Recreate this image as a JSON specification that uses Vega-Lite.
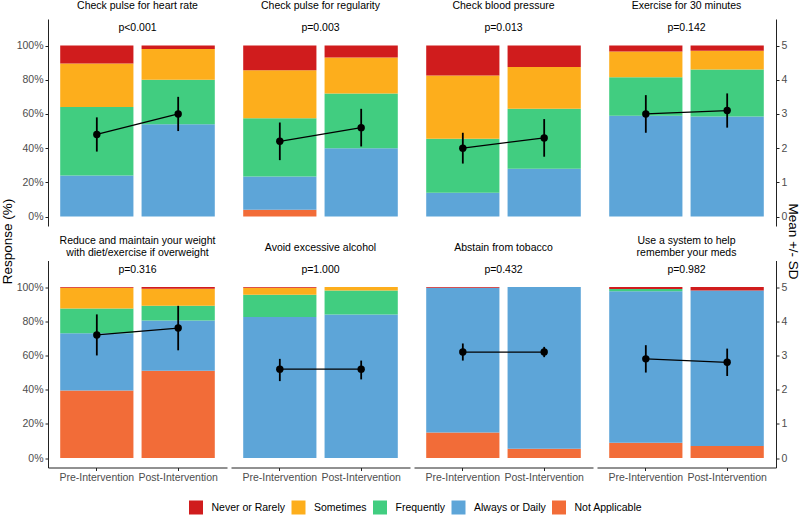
{
 "$schema": "https://vega.github.io/schema/vega-lite/v6.json",
 "padding": {"left": 0, "top": 1, "right": 0, "bottom": 0},
 "background": "white",
 "config": {
  "font": "Liberation Sans",
  "view": {"stroke": null},
  "axis": {"labelFontSize": 10.5, "labelColor": "#4D4D4D", "domainColor": "#222222", "tickColor": "#222222", "grid": false, "tickSize": 3, "labelPadding": 2, "titleFontSize": 13.5, "titleFontWeight": "normal", "titleColor": "black", "titlePadding": 1.5},
  "title": {"fontSize": 10.5, "fontWeight": "normal", "color": "black", "baseline": "middle", "offset": 7.5, "lineHeight": 12.3, "anchor": "middle", "frame": "group"},
  "legend": {"symbolType": "square", "symbolSize": 196, "symbolStrokeWidth": 0, "labelFontSize": 10.5, "labelColor": "black", "labelOffset": 8.5, "columnPadding": 5.5, "padding": 0}
 },
 "datasets": {
  "bars": [
   {"q": 1, "t": "Pre-Intervention", "c": "Always or Daily", "k": 2, "v": 24},
   {"q": 1, "t": "Pre-Intervention", "c": "Frequently", "k": 3, "v": 40},
   {"q": 1, "t": "Pre-Intervention", "c": "Sometimes", "k": 4, "v": 25.5},
   {"q": 1, "t": "Pre-Intervention", "c": "Never or Rarely", "k": 5, "v": 10.5},
   {"q": 1, "t": "Post-Intervention", "c": "Always or Daily", "k": 2, "v": 54},
   {"q": 1, "t": "Post-Intervention", "c": "Frequently", "k": 3, "v": 26},
   {"q": 1, "t": "Post-Intervention", "c": "Sometimes", "k": 4, "v": 18},
   {"q": 1, "t": "Post-Intervention", "c": "Never or Rarely", "k": 5, "v": 2},
   {"q": 2, "t": "Pre-Intervention", "c": "Not Applicable", "k": 1, "v": 4},
   {"q": 2, "t": "Pre-Intervention", "c": "Always or Daily", "k": 2, "v": 19.5},
   {"q": 2, "t": "Pre-Intervention", "c": "Frequently", "k": 3, "v": 34},
   {"q": 2, "t": "Pre-Intervention", "c": "Sometimes", "k": 4, "v": 28},
   {"q": 2, "t": "Pre-Intervention", "c": "Never or Rarely", "k": 5, "v": 14.5},
   {"q": 2, "t": "Post-Intervention", "c": "Always or Daily", "k": 2, "v": 40},
   {"q": 2, "t": "Post-Intervention", "c": "Frequently", "k": 3, "v": 32},
   {"q": 2, "t": "Post-Intervention", "c": "Sometimes", "k": 4, "v": 21},
   {"q": 2, "t": "Post-Intervention", "c": "Never or Rarely", "k": 5, "v": 7},
   {"q": 3, "t": "Pre-Intervention", "c": "Always or Daily", "k": 2, "v": 14},
   {"q": 3, "t": "Pre-Intervention", "c": "Frequently", "k": 3, "v": 31.5},
   {"q": 3, "t": "Pre-Intervention", "c": "Sometimes", "k": 4, "v": 37},
   {"q": 3, "t": "Pre-Intervention", "c": "Never or Rarely", "k": 5, "v": 17.5},
   {"q": 3, "t": "Post-Intervention", "c": "Always or Daily", "k": 2, "v": 28},
   {"q": 3, "t": "Post-Intervention", "c": "Frequently", "k": 3, "v": 35},
   {"q": 3, "t": "Post-Intervention", "c": "Sometimes", "k": 4, "v": 24.5},
   {"q": 3, "t": "Post-Intervention", "c": "Never or Rarely", "k": 5, "v": 12.5},
   {"q": 4, "t": "Pre-Intervention", "c": "Always or Daily", "k": 2, "v": 59},
   {"q": 4, "t": "Pre-Intervention", "c": "Frequently", "k": 3, "v": 22.5},
   {"q": 4, "t": "Pre-Intervention", "c": "Sometimes", "k": 4, "v": 15},
   {"q": 4, "t": "Pre-Intervention", "c": "Never or Rarely", "k": 5, "v": 3.5},
   {"q": 4, "t": "Post-Intervention", "c": "Always or Daily", "k": 2, "v": 58.5},
   {"q": 4, "t": "Post-Intervention", "c": "Frequently", "k": 3, "v": 27.5},
   {"q": 4, "t": "Post-Intervention", "c": "Sometimes", "k": 4, "v": 11},
   {"q": 4, "t": "Post-Intervention", "c": "Never or Rarely", "k": 5, "v": 3},
   {"q": 5, "t": "Pre-Intervention", "c": "Not Applicable", "k": 1, "v": 39.5},
   {"q": 5, "t": "Pre-Intervention", "c": "Always or Daily", "k": 2, "v": 33.5},
   {"q": 5, "t": "Pre-Intervention", "c": "Frequently", "k": 3, "v": 14.5},
   {"q": 5, "t": "Pre-Intervention", "c": "Sometimes", "k": 4, "v": 12},
   {"q": 5, "t": "Pre-Intervention", "c": "Never or Rarely", "k": 5, "v": 0.5},
   {"q": 5, "t": "Post-Intervention", "c": "Not Applicable", "k": 1, "v": 51},
   {"q": 5, "t": "Post-Intervention", "c": "Always or Daily", "k": 2, "v": 29.5},
   {"q": 5, "t": "Post-Intervention", "c": "Frequently", "k": 3, "v": 8.5},
   {"q": 5, "t": "Post-Intervention", "c": "Sometimes", "k": 4, "v": 10},
   {"q": 5, "t": "Post-Intervention", "c": "Never or Rarely", "k": 5, "v": 1},
   {"q": 6, "t": "Pre-Intervention", "c": "Always or Daily", "k": 2, "v": 82.5},
   {"q": 6, "t": "Pre-Intervention", "c": "Frequently", "k": 3, "v": 13},
   {"q": 6, "t": "Pre-Intervention", "c": "Sometimes", "k": 4, "v": 4},
   {"q": 6, "t": "Pre-Intervention", "c": "Never or Rarely", "k": 5, "v": 0.5},
   {"q": 6, "t": "Post-Intervention", "c": "Always or Daily", "k": 2, "v": 84},
   {"q": 6, "t": "Post-Intervention", "c": "Frequently", "k": 3, "v": 14},
   {"q": 6, "t": "Post-Intervention", "c": "Sometimes", "k": 4, "v": 2},
   {"q": 7, "t": "Pre-Intervention", "c": "Not Applicable", "k": 1, "v": 15},
   {"q": 7, "t": "Pre-Intervention", "c": "Always or Daily", "k": 2, "v": 84.5},
   {"q": 7, "t": "Pre-Intervention", "c": "Never or Rarely", "k": 5, "v": 0.5},
   {"q": 7, "t": "Post-Intervention", "c": "Not Applicable", "k": 1, "v": 5.5},
   {"q": 7, "t": "Post-Intervention", "c": "Always or Daily", "k": 2, "v": 94.5},
   {"q": 8, "t": "Pre-Intervention", "c": "Not Applicable", "k": 1, "v": 9},
   {"q": 8, "t": "Pre-Intervention", "c": "Always or Daily", "k": 2, "v": 88.5},
   {"q": 8, "t": "Pre-Intervention", "c": "Frequently", "k": 3, "v": 1.3},
   {"q": 8, "t": "Pre-Intervention", "c": "Never or Rarely", "k": 5, "v": 1.2},
   {"q": 8, "t": "Post-Intervention", "c": "Not Applicable", "k": 1, "v": 7},
   {"q": 8, "t": "Post-Intervention", "c": "Always or Daily", "k": 2, "v": 91},
   {"q": 8, "t": "Post-Intervention", "c": "Never or Rarely", "k": 5, "v": 2}
  ],
  "means": [
   {"q": 1, "t": "Pre-Intervention", "m": 2.4, "lo": 1.9, "hi": 2.9},
   {"q": 1, "t": "Post-Intervention", "m": 3.0, "lo": 2.5, "hi": 3.5},
   {"q": 2, "t": "Pre-Intervention", "m": 2.2, "lo": 1.65, "hi": 2.75},
   {"q": 2, "t": "Post-Intervention", "m": 2.6, "lo": 2.05, "hi": 3.15},
   {"q": 3, "t": "Pre-Intervention", "m": 2.0, "lo": 1.55, "hi": 2.45},
   {"q": 3, "t": "Post-Intervention", "m": 2.3, "lo": 1.75, "hi": 2.85},
   {"q": 4, "t": "Pre-Intervention", "m": 3.0, "lo": 2.45, "hi": 3.55},
   {"q": 4, "t": "Post-Intervention", "m": 3.1, "lo": 2.6, "hi": 3.6},
   {"q": 5, "t": "Pre-Intervention", "m": 3.6, "lo": 3.0, "hi": 4.2},
   {"q": 5, "t": "Post-Intervention", "m": 3.8, "lo": 3.15, "hi": 4.45},
   {"q": 6, "t": "Pre-Intervention", "m": 2.6, "lo": 2.25, "hi": 2.9},
   {"q": 6, "t": "Post-Intervention", "m": 2.6, "lo": 2.3, "hi": 2.85},
   {"q": 7, "t": "Pre-Intervention", "m": 3.1, "lo": 2.85, "hi": 3.35},
   {"q": 7, "t": "Post-Intervention", "m": 3.1, "lo": 2.95, "hi": 3.25},
   {"q": 8, "t": "Pre-Intervention", "m": 2.9, "lo": 2.5, "hi": 3.3},
   {"q": 8, "t": "Post-Intervention", "m": 2.8, "lo": 2.4, "hi": 3.2}
  ],
  "pvals": [
   {"q": 1, "p": "p<0.001"},
   {"q": 2, "p": "p=0.003"},
   {"q": 3, "p": "p=0.013"},
   {"q": 4, "p": "p=0.142"},
   {"q": 5, "p": "p=0.316"},
   {"q": 6, "p": "p=1.000"},
   {"q": 7, "p": "p=0.432"},
   {"q": 8, "p": "p=0.982"}
  ]
 },
 "bounds": "flush",
 "spacing": {"row": 34.5, "column": 4},
 "columns": 4,
 "concat": [
   {"width": 179, "height": 207, "title": {"text": "Check pulse for heart rate"}, "resolve": {"scale": {"y": "independent"}},
    "layer": [
     {"data": {"name": "bars"}, "transform": [{"filter": "datum.q == 1"}], "mark": "bar",
      "encoding": {"x": {"field": "t", "type": "nominal", "scale": {"domain": ["Pre-Intervention", "Post-Intervention"], "paddingInner": 0.1, "paddingOuter": 0.15}, "axis": null},
       "y": {"field": "v", "type": "quantitative", "stack": "zero", "scale": {"domain": [-5.5, 115.5], "nice": false, "zero": false}, "axis": {"orient": "left", "values": [0, 20, 40, 60, 80, 100], "labelExpr": "datum.value + '%'", "title": "Response (%)", "titleY": 222}},
       "color": {"field": "c", "type": "nominal", "scale": {"domain": ["Never or Rarely", "Sometimes", "Frequently", "Always or Daily", "Not Applicable"], "range": ["#D01C1D", "#FDAE1C", "#41CD80", "#5DA5D8", "#F26C38"]}, "legend": {"title": null, "orient": "none", "direction": "horizontal", "legendX": 141, "legendY": 481.5}},
       "order": {"field": "k", "type": "quantitative"}}},
     {"data": {"name": "means"}, "transform": [{"filter": "datum.q == 1"}],
      "layer": [
       {"mark": {"type": "rule", "color": "black", "strokeWidth": 1.8}, "encoding": {"x": {"field": "t", "type": "nominal", "scale": {"domain": ["Pre-Intervention", "Post-Intervention"], "paddingInner": 0.1, "paddingOuter": 0.15}, "axis": null}, "y": {"field": "lo", "type": "quantitative", "scale": {"domain": [-0.275, 5.775], "nice": false, "zero": false}, "axis": null}, "y2": {"field": "hi"}}},
       {"mark": {"type": "line", "color": "black", "strokeWidth": 1.3}, "encoding": {"x": {"field": "t", "type": "nominal", "scale": {"domain": ["Pre-Intervention", "Post-Intervention"], "paddingInner": 0.1, "paddingOuter": 0.15}, "axis": null}, "y": {"field": "m", "type": "quantitative", "scale": {"domain": [-0.275, 5.775], "nice": false, "zero": false}, "axis": null}}},
       {"mark": {"type": "point", "filled": true, "color": "black", "opacity": 1, "size": 55}, "encoding": {"x": {"field": "t", "type": "nominal", "scale": {"domain": ["Pre-Intervention", "Post-Intervention"], "paddingInner": 0.1, "paddingOuter": 0.15}, "axis": null}, "y": {"field": "m", "type": "quantitative", "scale": {"domain": [-0.275, 5.775], "nice": false, "zero": false}, "axis": null}}},
       {"data": {"name": "pvals"}, "transform": [{"filter": "datum.q == 1"}], "mark": {"type": "text", "fontSize": 10.5, "color": "black", "baseline": "middle"}, "encoding": {"text": {"field": "p"}, "y": {"datum": 5.5, "type": "quantitative", "scale": {"domain": [-0.275, 5.775], "nice": false, "zero": false}, "axis": null}}}
      ]}
    ]},
   {"width": 179, "height": 207, "title": {"text": "Check pulse for regularity"}, "resolve": {"scale": {"y": "independent"}},
    "layer": [
     {"data": {"name": "bars"}, "transform": [{"filter": "datum.q == 2"}], "mark": "bar",
      "encoding": {"x": {"field": "t", "type": "nominal", "scale": {"domain": ["Pre-Intervention", "Post-Intervention"], "paddingInner": 0.1, "paddingOuter": 0.15}, "axis": null},
       "y": {"field": "v", "type": "quantitative", "stack": "zero", "scale": {"domain": [-5.5, 115.5], "nice": false, "zero": false}, "axis": null},
       "color": {"field": "c", "type": "nominal", "scale": {"domain": ["Never or Rarely", "Sometimes", "Frequently", "Always or Daily", "Not Applicable"], "range": ["#D01C1D", "#FDAE1C", "#41CD80", "#5DA5D8", "#F26C38"]}, "legend": {"title": null, "orient": "none", "direction": "horizontal", "legendX": 141, "legendY": 481.5}},
       "order": {"field": "k", "type": "quantitative"}}},
     {"data": {"name": "means"}, "transform": [{"filter": "datum.q == 2"}],
      "layer": [
       {"mark": {"type": "rule", "color": "black", "strokeWidth": 1.8}, "encoding": {"x": {"field": "t", "type": "nominal", "scale": {"domain": ["Pre-Intervention", "Post-Intervention"], "paddingInner": 0.1, "paddingOuter": 0.15}, "axis": null}, "y": {"field": "lo", "type": "quantitative", "scale": {"domain": [-0.275, 5.775], "nice": false, "zero": false}, "axis": null}, "y2": {"field": "hi"}}},
       {"mark": {"type": "line", "color": "black", "strokeWidth": 1.3}, "encoding": {"x": {"field": "t", "type": "nominal", "scale": {"domain": ["Pre-Intervention", "Post-Intervention"], "paddingInner": 0.1, "paddingOuter": 0.15}, "axis": null}, "y": {"field": "m", "type": "quantitative", "scale": {"domain": [-0.275, 5.775], "nice": false, "zero": false}, "axis": null}}},
       {"mark": {"type": "point", "filled": true, "color": "black", "opacity": 1, "size": 55}, "encoding": {"x": {"field": "t", "type": "nominal", "scale": {"domain": ["Pre-Intervention", "Post-Intervention"], "paddingInner": 0.1, "paddingOuter": 0.15}, "axis": null}, "y": {"field": "m", "type": "quantitative", "scale": {"domain": [-0.275, 5.775], "nice": false, "zero": false}, "axis": null}}},
       {"data": {"name": "pvals"}, "transform": [{"filter": "datum.q == 2"}], "mark": {"type": "text", "fontSize": 10.5, "color": "black", "baseline": "middle"}, "encoding": {"text": {"field": "p"}, "y": {"datum": 5.5, "type": "quantitative", "scale": {"domain": [-0.275, 5.775], "nice": false, "zero": false}, "axis": null}}}
      ]}
    ]},
   {"width": 179, "height": 207, "title": {"text": "Check blood pressure"}, "resolve": {"scale": {"y": "independent"}},
    "layer": [
     {"data": {"name": "bars"}, "transform": [{"filter": "datum.q == 3"}], "mark": "bar",
      "encoding": {"x": {"field": "t", "type": "nominal", "scale": {"domain": ["Pre-Intervention", "Post-Intervention"], "paddingInner": 0.1, "paddingOuter": 0.15}, "axis": null},
       "y": {"field": "v", "type": "quantitative", "stack": "zero", "scale": {"domain": [-5.5, 115.5], "nice": false, "zero": false}, "axis": null},
       "color": {"field": "c", "type": "nominal", "scale": {"domain": ["Never or Rarely", "Sometimes", "Frequently", "Always or Daily", "Not Applicable"], "range": ["#D01C1D", "#FDAE1C", "#41CD80", "#5DA5D8", "#F26C38"]}, "legend": {"title": null, "orient": "none", "direction": "horizontal", "legendX": 141, "legendY": 481.5}},
       "order": {"field": "k", "type": "quantitative"}}},
     {"data": {"name": "means"}, "transform": [{"filter": "datum.q == 3"}],
      "layer": [
       {"mark": {"type": "rule", "color": "black", "strokeWidth": 1.8}, "encoding": {"x": {"field": "t", "type": "nominal", "scale": {"domain": ["Pre-Intervention", "Post-Intervention"], "paddingInner": 0.1, "paddingOuter": 0.15}, "axis": null}, "y": {"field": "lo", "type": "quantitative", "scale": {"domain": [-0.275, 5.775], "nice": false, "zero": false}, "axis": null}, "y2": {"field": "hi"}}},
       {"mark": {"type": "line", "color": "black", "strokeWidth": 1.3}, "encoding": {"x": {"field": "t", "type": "nominal", "scale": {"domain": ["Pre-Intervention", "Post-Intervention"], "paddingInner": 0.1, "paddingOuter": 0.15}, "axis": null}, "y": {"field": "m", "type": "quantitative", "scale": {"domain": [-0.275, 5.775], "nice": false, "zero": false}, "axis": null}}},
       {"mark": {"type": "point", "filled": true, "color": "black", "opacity": 1, "size": 55}, "encoding": {"x": {"field": "t", "type": "nominal", "scale": {"domain": ["Pre-Intervention", "Post-Intervention"], "paddingInner": 0.1, "paddingOuter": 0.15}, "axis": null}, "y": {"field": "m", "type": "quantitative", "scale": {"domain": [-0.275, 5.775], "nice": false, "zero": false}, "axis": null}}},
       {"data": {"name": "pvals"}, "transform": [{"filter": "datum.q == 3"}], "mark": {"type": "text", "fontSize": 10.5, "color": "black", "baseline": "middle"}, "encoding": {"text": {"field": "p"}, "y": {"datum": 5.5, "type": "quantitative", "scale": {"domain": [-0.275, 5.775], "nice": false, "zero": false}, "axis": null}}}
      ]}
    ]},
   {"width": 179, "height": 207, "title": {"text": "Exercise for 30 minutes"}, "resolve": {"scale": {"y": "independent"}},
    "layer": [
     {"data": {"name": "bars"}, "transform": [{"filter": "datum.q == 4"}], "mark": "bar",
      "encoding": {"x": {"field": "t", "type": "nominal", "scale": {"domain": ["Pre-Intervention", "Post-Intervention"], "paddingInner": 0.1, "paddingOuter": 0.15}, "axis": null},
       "y": {"field": "v", "type": "quantitative", "stack": "zero", "scale": {"domain": [-5.5, 115.5], "nice": false, "zero": false}, "axis": null},
       "color": {"field": "c", "type": "nominal", "scale": {"domain": ["Never or Rarely", "Sometimes", "Frequently", "Always or Daily", "Not Applicable"], "range": ["#D01C1D", "#FDAE1C", "#41CD80", "#5DA5D8", "#F26C38"]}, "legend": {"title": null, "orient": "none", "direction": "horizontal", "legendX": 141, "legendY": 481.5}},
       "order": {"field": "k", "type": "quantitative"}}},
     {"data": {"name": "means"}, "transform": [{"filter": "datum.q == 4"}],
      "layer": [
       {"mark": {"type": "rule", "color": "black", "strokeWidth": 1.8}, "encoding": {"x": {"field": "t", "type": "nominal", "scale": {"domain": ["Pre-Intervention", "Post-Intervention"], "paddingInner": 0.1, "paddingOuter": 0.15}, "axis": null}, "y": {"field": "lo", "type": "quantitative", "scale": {"domain": [-0.275, 5.775], "nice": false, "zero": false}, "axis": {"orient": "right", "values": [0, 1, 2, 3, 4, 5], "title": "Mean +/- SD", "titleY": 222, "titlePadding": -1.5}}, "y2": {"field": "hi"}}},
       {"mark": {"type": "line", "color": "black", "strokeWidth": 1.3}, "encoding": {"x": {"field": "t", "type": "nominal", "scale": {"domain": ["Pre-Intervention", "Post-Intervention"], "paddingInner": 0.1, "paddingOuter": 0.15}, "axis": null}, "y": {"field": "m", "type": "quantitative", "scale": {"domain": [-0.275, 5.775], "nice": false, "zero": false}, "axis": {"orient": "right", "values": [0, 1, 2, 3, 4, 5], "title": "Mean +/- SD", "titleY": 222, "titlePadding": -1.5}}}},
       {"mark": {"type": "point", "filled": true, "color": "black", "opacity": 1, "size": 55}, "encoding": {"x": {"field": "t", "type": "nominal", "scale": {"domain": ["Pre-Intervention", "Post-Intervention"], "paddingInner": 0.1, "paddingOuter": 0.15}, "axis": null}, "y": {"field": "m", "type": "quantitative", "scale": {"domain": [-0.275, 5.775], "nice": false, "zero": false}, "axis": {"orient": "right", "values": [0, 1, 2, 3, 4, 5], "title": "Mean +/- SD", "titleY": 222, "titlePadding": -1.5}}}},
       {"data": {"name": "pvals"}, "transform": [{"filter": "datum.q == 4"}], "mark": {"type": "text", "fontSize": 10.5, "color": "black", "baseline": "middle"}, "encoding": {"text": {"field": "p"}, "y": {"datum": 5.5, "type": "quantitative", "scale": {"domain": [-0.275, 5.775], "nice": false, "zero": false}, "axis": {"orient": "right", "values": [0, 1, 2, 3, 4, 5], "title": "Mean +/- SD", "titleY": 222, "titlePadding": -1.5}}}}
      ]}
    ]},
   {"width": 179, "height": 207, "title": {"text": ["Reduce and maintain your weight", "with diet/exercise if overweight"], "offset": 1.7, "lineHeight": 12.3}, "resolve": {"scale": {"y": "independent"}},
    "layer": [
     {"data": {"name": "bars"}, "transform": [{"filter": "datum.q == 5"}], "mark": "bar",
      "encoding": {"x": {"field": "t", "type": "nominal", "scale": {"domain": ["Pre-Intervention", "Post-Intervention"], "paddingInner": 0.1, "paddingOuter": 0.15}, "axis": {"title": null, "labelAngle": 0}},
       "y": {"field": "v", "type": "quantitative", "stack": "zero", "scale": {"domain": [-5.5, 115.5], "nice": false, "zero": false}, "axis": {"orient": "left", "values": [0, 20, 40, 60, 80, 100], "labelExpr": "datum.value + '%'", "title": null}},
       "color": {"field": "c", "type": "nominal", "scale": {"domain": ["Never or Rarely", "Sometimes", "Frequently", "Always or Daily", "Not Applicable"], "range": ["#D01C1D", "#FDAE1C", "#41CD80", "#5DA5D8", "#F26C38"]}, "legend": {"title": null, "orient": "none", "direction": "horizontal", "legendX": 141, "legendY": 481.5}},
       "order": {"field": "k", "type": "quantitative"}}},
     {"data": {"name": "means"}, "transform": [{"filter": "datum.q == 5"}],
      "layer": [
       {"mark": {"type": "rule", "color": "black", "strokeWidth": 1.8}, "encoding": {"x": {"field": "t", "type": "nominal", "scale": {"domain": ["Pre-Intervention", "Post-Intervention"], "paddingInner": 0.1, "paddingOuter": 0.15}, "axis": {"title": null, "labelAngle": 0}}, "y": {"field": "lo", "type": "quantitative", "scale": {"domain": [-0.275, 5.775], "nice": false, "zero": false}, "axis": null}, "y2": {"field": "hi"}}},
       {"mark": {"type": "line", "color": "black", "strokeWidth": 1.3}, "encoding": {"x": {"field": "t", "type": "nominal", "scale": {"domain": ["Pre-Intervention", "Post-Intervention"], "paddingInner": 0.1, "paddingOuter": 0.15}, "axis": {"title": null, "labelAngle": 0}}, "y": {"field": "m", "type": "quantitative", "scale": {"domain": [-0.275, 5.775], "nice": false, "zero": false}, "axis": null}}},
       {"mark": {"type": "point", "filled": true, "color": "black", "opacity": 1, "size": 55}, "encoding": {"x": {"field": "t", "type": "nominal", "scale": {"domain": ["Pre-Intervention", "Post-Intervention"], "paddingInner": 0.1, "paddingOuter": 0.15}, "axis": {"title": null, "labelAngle": 0}}, "y": {"field": "m", "type": "quantitative", "scale": {"domain": [-0.275, 5.775], "nice": false, "zero": false}, "axis": null}}},
       {"data": {"name": "pvals"}, "transform": [{"filter": "datum.q == 5"}], "mark": {"type": "text", "fontSize": 10.5, "color": "black", "baseline": "middle"}, "encoding": {"text": {"field": "p"}, "y": {"datum": 5.5, "type": "quantitative", "scale": {"domain": [-0.275, 5.775], "nice": false, "zero": false}, "axis": null}}}
      ]}
    ]},
   {"width": 179, "height": 207, "title": {"text": "Avoid excessive alcohol"}, "resolve": {"scale": {"y": "independent"}},
    "layer": [
     {"data": {"name": "bars"}, "transform": [{"filter": "datum.q == 6"}], "mark": "bar",
      "encoding": {"x": {"field": "t", "type": "nominal", "scale": {"domain": ["Pre-Intervention", "Post-Intervention"], "paddingInner": 0.1, "paddingOuter": 0.15}, "axis": {"title": null, "labelAngle": 0}},
       "y": {"field": "v", "type": "quantitative", "stack": "zero", "scale": {"domain": [-5.5, 115.5], "nice": false, "zero": false}, "axis": null},
       "color": {"field": "c", "type": "nominal", "scale": {"domain": ["Never or Rarely", "Sometimes", "Frequently", "Always or Daily", "Not Applicable"], "range": ["#D01C1D", "#FDAE1C", "#41CD80", "#5DA5D8", "#F26C38"]}, "legend": {"title": null, "orient": "none", "direction": "horizontal", "legendX": 141, "legendY": 481.5}},
       "order": {"field": "k", "type": "quantitative"}}},
     {"data": {"name": "means"}, "transform": [{"filter": "datum.q == 6"}],
      "layer": [
       {"mark": {"type": "rule", "color": "black", "strokeWidth": 1.8}, "encoding": {"x": {"field": "t", "type": "nominal", "scale": {"domain": ["Pre-Intervention", "Post-Intervention"], "paddingInner": 0.1, "paddingOuter": 0.15}, "axis": {"title": null, "labelAngle": 0}}, "y": {"field": "lo", "type": "quantitative", "scale": {"domain": [-0.275, 5.775], "nice": false, "zero": false}, "axis": null}, "y2": {"field": "hi"}}},
       {"mark": {"type": "line", "color": "black", "strokeWidth": 1.3}, "encoding": {"x": {"field": "t", "type": "nominal", "scale": {"domain": ["Pre-Intervention", "Post-Intervention"], "paddingInner": 0.1, "paddingOuter": 0.15}, "axis": {"title": null, "labelAngle": 0}}, "y": {"field": "m", "type": "quantitative", "scale": {"domain": [-0.275, 5.775], "nice": false, "zero": false}, "axis": null}}},
       {"mark": {"type": "point", "filled": true, "color": "black", "opacity": 1, "size": 55}, "encoding": {"x": {"field": "t", "type": "nominal", "scale": {"domain": ["Pre-Intervention", "Post-Intervention"], "paddingInner": 0.1, "paddingOuter": 0.15}, "axis": {"title": null, "labelAngle": 0}}, "y": {"field": "m", "type": "quantitative", "scale": {"domain": [-0.275, 5.775], "nice": false, "zero": false}, "axis": null}}},
       {"data": {"name": "pvals"}, "transform": [{"filter": "datum.q == 6"}], "mark": {"type": "text", "fontSize": 10.5, "color": "black", "baseline": "middle"}, "encoding": {"text": {"field": "p"}, "y": {"datum": 5.5, "type": "quantitative", "scale": {"domain": [-0.275, 5.775], "nice": false, "zero": false}, "axis": null}}}
      ]}
    ]},
   {"width": 179, "height": 207, "title": {"text": "Abstain from tobacco"}, "resolve": {"scale": {"y": "independent"}},
    "layer": [
     {"data": {"name": "bars"}, "transform": [{"filter": "datum.q == 7"}], "mark": "bar",
      "encoding": {"x": {"field": "t", "type": "nominal", "scale": {"domain": ["Pre-Intervention", "Post-Intervention"], "paddingInner": 0.1, "paddingOuter": 0.15}, "axis": {"title": null, "labelAngle": 0}},
       "y": {"field": "v", "type": "quantitative", "stack": "zero", "scale": {"domain": [-5.5, 115.5], "nice": false, "zero": false}, "axis": null},
       "color": {"field": "c", "type": "nominal", "scale": {"domain": ["Never or Rarely", "Sometimes", "Frequently", "Always or Daily", "Not Applicable"], "range": ["#D01C1D", "#FDAE1C", "#41CD80", "#5DA5D8", "#F26C38"]}, "legend": {"title": null, "orient": "none", "direction": "horizontal", "legendX": 141, "legendY": 481.5}},
       "order": {"field": "k", "type": "quantitative"}}},
     {"data": {"name": "means"}, "transform": [{"filter": "datum.q == 7"}],
      "layer": [
       {"mark": {"type": "rule", "color": "black", "strokeWidth": 1.8}, "encoding": {"x": {"field": "t", "type": "nominal", "scale": {"domain": ["Pre-Intervention", "Post-Intervention"], "paddingInner": 0.1, "paddingOuter": 0.15}, "axis": {"title": null, "labelAngle": 0}}, "y": {"field": "lo", "type": "quantitative", "scale": {"domain": [-0.275, 5.775], "nice": false, "zero": false}, "axis": null}, "y2": {"field": "hi"}}},
       {"mark": {"type": "line", "color": "black", "strokeWidth": 1.3}, "encoding": {"x": {"field": "t", "type": "nominal", "scale": {"domain": ["Pre-Intervention", "Post-Intervention"], "paddingInner": 0.1, "paddingOuter": 0.15}, "axis": {"title": null, "labelAngle": 0}}, "y": {"field": "m", "type": "quantitative", "scale": {"domain": [-0.275, 5.775], "nice": false, "zero": false}, "axis": null}}},
       {"mark": {"type": "point", "filled": true, "color": "black", "opacity": 1, "size": 55}, "encoding": {"x": {"field": "t", "type": "nominal", "scale": {"domain": ["Pre-Intervention", "Post-Intervention"], "paddingInner": 0.1, "paddingOuter": 0.15}, "axis": {"title": null, "labelAngle": 0}}, "y": {"field": "m", "type": "quantitative", "scale": {"domain": [-0.275, 5.775], "nice": false, "zero": false}, "axis": null}}},
       {"data": {"name": "pvals"}, "transform": [{"filter": "datum.q == 7"}], "mark": {"type": "text", "fontSize": 10.5, "color": "black", "baseline": "middle"}, "encoding": {"text": {"field": "p"}, "y": {"datum": 5.5, "type": "quantitative", "scale": {"domain": [-0.275, 5.775], "nice": false, "zero": false}, "axis": null}}}
      ]}
    ]},
   {"width": 179, "height": 207, "title": {"text": ["Use a system to help", "remember your meds"], "offset": 1.7, "lineHeight": 12.3}, "resolve": {"scale": {"y": "independent"}},
    "layer": [
     {"data": {"name": "bars"}, "transform": [{"filter": "datum.q == 8"}], "mark": "bar",
      "encoding": {"x": {"field": "t", "type": "nominal", "scale": {"domain": ["Pre-Intervention", "Post-Intervention"], "paddingInner": 0.1, "paddingOuter": 0.15}, "axis": {"title": null, "labelAngle": 0}},
       "y": {"field": "v", "type": "quantitative", "stack": "zero", "scale": {"domain": [-5.5, 115.5], "nice": false, "zero": false}, "axis": null},
       "color": {"field": "c", "type": "nominal", "scale": {"domain": ["Never or Rarely", "Sometimes", "Frequently", "Always or Daily", "Not Applicable"], "range": ["#D01C1D", "#FDAE1C", "#41CD80", "#5DA5D8", "#F26C38"]}, "legend": {"title": null, "orient": "none", "direction": "horizontal", "legendX": 141, "legendY": 481.5}},
       "order": {"field": "k", "type": "quantitative"}}},
     {"data": {"name": "means"}, "transform": [{"filter": "datum.q == 8"}],
      "layer": [
       {"mark": {"type": "rule", "color": "black", "strokeWidth": 1.8}, "encoding": {"x": {"field": "t", "type": "nominal", "scale": {"domain": ["Pre-Intervention", "Post-Intervention"], "paddingInner": 0.1, "paddingOuter": 0.15}, "axis": {"title": null, "labelAngle": 0}}, "y": {"field": "lo", "type": "quantitative", "scale": {"domain": [-0.275, 5.775], "nice": false, "zero": false}, "axis": {"orient": "right", "values": [0, 1, 2, 3, 4, 5], "title": null}}, "y2": {"field": "hi"}}},
       {"mark": {"type": "line", "color": "black", "strokeWidth": 1.3}, "encoding": {"x": {"field": "t", "type": "nominal", "scale": {"domain": ["Pre-Intervention", "Post-Intervention"], "paddingInner": 0.1, "paddingOuter": 0.15}, "axis": {"title": null, "labelAngle": 0}}, "y": {"field": "m", "type": "quantitative", "scale": {"domain": [-0.275, 5.775], "nice": false, "zero": false}, "axis": {"orient": "right", "values": [0, 1, 2, 3, 4, 5], "title": null}}}},
       {"mark": {"type": "point", "filled": true, "color": "black", "opacity": 1, "size": 55}, "encoding": {"x": {"field": "t", "type": "nominal", "scale": {"domain": ["Pre-Intervention", "Post-Intervention"], "paddingInner": 0.1, "paddingOuter": 0.15}, "axis": {"title": null, "labelAngle": 0}}, "y": {"field": "m", "type": "quantitative", "scale": {"domain": [-0.275, 5.775], "nice": false, "zero": false}, "axis": {"orient": "right", "values": [0, 1, 2, 3, 4, 5], "title": null}}}},
       {"data": {"name": "pvals"}, "transform": [{"filter": "datum.q == 8"}], "mark": {"type": "text", "fontSize": 10.5, "color": "black", "baseline": "middle"}, "encoding": {"text": {"field": "p"}, "y": {"datum": 5.5, "type": "quantitative", "scale": {"domain": [-0.275, 5.775], "nice": false, "zero": false}, "axis": {"orient": "right", "values": [0, 1, 2, 3, 4, 5], "title": null}}}}
      ]}
    ]}
 ]
}
